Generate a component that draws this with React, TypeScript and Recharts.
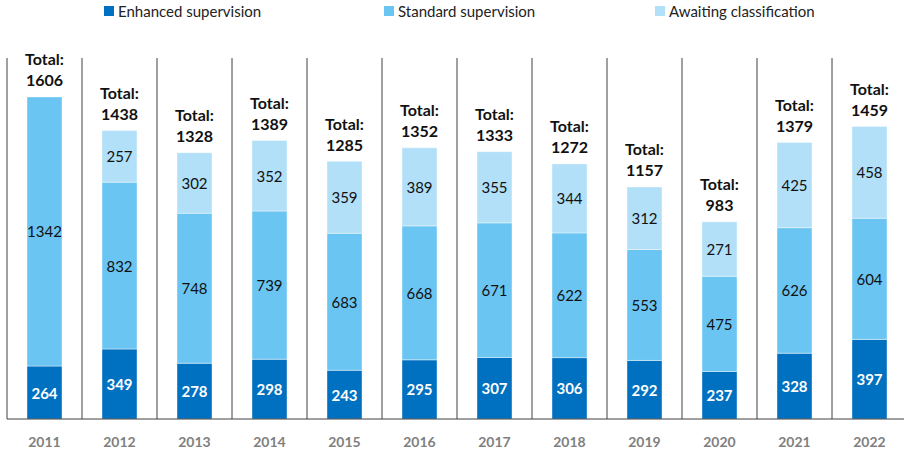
import { BarChart, Bar, XAxis, YAxis, CartesianGrid, LabelList } from "recharts";

// Cases under supervision by year
const years = ["2011", "2012", "2013", "2014", "2015", "2016", "2017", "2018", "2019", "2020", "2021", "2022"];
const enhanced = [264, 349, 278, 298, 243, 295, 307, 306, 292, 237, 328, 397];
const standard = [1342, 832, 748, 739, 683, 668, 671, 622, 553, 475, 626, 604];
const awaiting = [0, 257, 302, 352, 359, 389, 355, 344, 312, 271, 425, 458];
const totals = [1606, 1438, 1328, 1389, 1285, 1352, 1333, 1272, 1157, 983, 1379, 1459];

const seriesNames = ["Enhanced supervision", "Standard supervision", "Awaiting classification"];

const data = years.map((year, i) => ({
  year,
  enhanced: enhanced[i],
  standard: standard[i],
  awaiting: awaiting[i],
  total: totals[i],
}));

const FONT = "Lato, 'Open Sans', sans-serif";
const C_ENH = "#0070C0";
const C_STD = "#6BC5F2";
const C_AWT = "#B1E0F8";
const LINE = "#404040";
const seriesColors = [C_ENH, C_STD, C_AWT];

const legendLeft = [104, 384, 655];

function innerLabel(color: string, bold: boolean) {
  return (props: any) => {
    const { x, y, width, height, value } = props;
    if (!value) return null;
    return (
      <text
        x={x + width / 2}
        y={y + height / 2}
        textAnchor="middle"
        dominantBaseline="central"
        fill={color}
        fontFamily={FONT}
        fontSize={15}
        fontWeight={bold ? 700 : 400}
      >
        {value}
      </text>
    );
  };
}

// total label drawn from the standard segment, lifted by the awaiting segment's height
function totalLabel(props: any) {
  const { x, y, width, height, index } = props;
  const pxPerUnit = height / standard[index];
  const top = y - awaiting[index] * pxPerUnit;
  const cx = x + width / 2;
  return (
    <g fontFamily={FONT} fontSize={16} fontWeight={700} fill="#111" textAnchor="middle">
      <text x={cx} y={top - 38} dominantBaseline="central">Total:</text>
      <text x={cx} y={top - 17} dominantBaseline="central">{totals[index]}</text>
    </g>
  );
}

function yearTick(props: any) {
  const { x, y, payload } = props;
  return (
    <text x={x} y={y + 14} textAnchor="middle" dominantBaseline="central" fill="#7F7F7F" fontFamily={FONT} fontSize={14} fontWeight={700}>
      {payload.value}
    </text>
  );
}

export default function App() {
  return (
    <div style={{ position: "absolute", left: 0, top: 0, width: 904, height: 455, overflow: "hidden", background: "#fff" }}>
      {/* legend */}
      <div style={{ position: "absolute", left: 0, top: 0, width: 904, height: 24, fontFamily: FONT, fontSize: 15, color: "#222", zIndex: 1 }}>
        {seriesNames.map((name, i) => (
          <div
            key={name}
            style={{ position: "absolute", left: legendLeft[i], top: 2, display: "flex", alignItems: "center", whiteSpace: "nowrap" }}
          >
            <span style={{ display: "inline-block", width: 10, height: 10, background: seriesColors[i], marginRight: 4 }} />
            {name}
          </div>
        ))}
      </div>
      <BarChart width={910} height={455} data={data} margin={{ top: 58, right: 3, bottom: 6, left: 7 }} barSize={35}>
        <CartesianGrid
          horizontal={false}
          stroke={LINE}
          verticalCoordinatesGenerator={({ offset }: any) =>
            years.map((_, i) => offset.left + (offset.width / years.length) * i)
          }
        />
        <XAxis dataKey="year" axisLine={{ stroke: LINE }} tickLine={false} tick={yearTick} />
        <YAxis hide domain={[0, 1800]} />
        <Bar dataKey="enhanced" name={seriesNames[0]} stackId="a" fill={C_ENH} stroke="#ffffff" strokeOpacity={0.4} isAnimationActive={false}>
          <LabelList dataKey="enhanced" content={innerLabel("#ffffff", true)} />
        </Bar>
        <Bar dataKey="standard" name={seriesNames[1]} stackId="a" fill={C_STD} stroke="#ffffff" strokeOpacity={0.4} isAnimationActive={false}>
          <LabelList dataKey="standard" content={innerLabel("#111111", false)} />
          <LabelList dataKey="total" content={totalLabel} />
        </Bar>
        <Bar dataKey="awaiting" name={seriesNames[2]} stackId="a" fill={C_AWT} stroke="#ffffff" strokeOpacity={0.4} isAnimationActive={false}>
          <LabelList dataKey="awaiting" content={innerLabel("#111111", false)} />
        </Bar>
      </BarChart>
    </div>
  );
}
